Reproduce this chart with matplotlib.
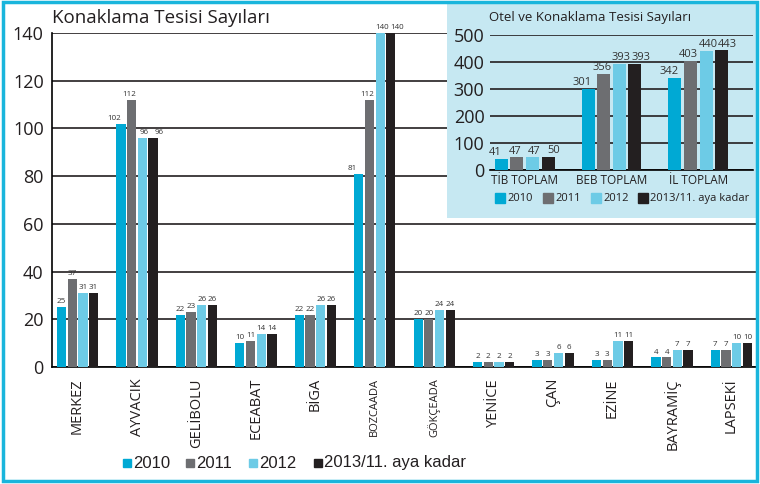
import numpy as np
import matplotlib
matplotlib.use("Agg")
import matplotlib.pyplot as plt
from matplotlib.patches import Rectangle

plt.rcParams['font.family'] = ['Open Sans', 'DejaVu Sans']

# main chart data
districts = ['MERKEZ', 'AYVACIK', 'GELİBOLU', 'ECEABAT', 'BİGA', 'BOZCAADA',
             'GÖKÇEADA', 'YENİCE', 'ÇAN', 'EZİNE', 'BAYRAMİÇ', 'LAPSEKİ']
v2010 = [25, 102, 22, 10, 22, 81, 20, 2, 3, 3, 4, 7]
v2011 = [37, 112, 23, 11, 22, 112, 20, 2, 3, 3, 4, 7]
v2012 = [31, 96, 26, 14, 26, 140, 24, 2, 6, 11, 7, 10]
v2013 = [31, 96, 26, 14, 26, 140, 24, 2, 6, 11, 7, 10]
years = ['2010', '2011', '2012', '2013/11. aya kadar']

# inset data
groups = ['TİB TOPLAM', 'BEB TOPLAM', 'İL TOPLAM']
t2010 = [41, 301, 342]
t2011 = [47, 356, 403]
t2012 = [47, 393, 440]
t2013 = [50, 393, 443]

colors = ['#00a9d4', '#6d6e71', '#6dcbe6', '#231f20']
txt = '#231f20'
W, H = 760, 484

fig = plt.figure(figsize=(7.6, 4.84), dpi=100)

# main axes
ax = fig.add_axes([52/W, 1-367/H, 705/W, 334/H])
x = np.arange(len(districts))
step, w = 0.18, 0.155
series = [v2010, v2011, v2012, v2013]
for k, vals in enumerate(series):
    pos = x + (k - 1.5) * step
    ax.bar(pos, vals, w, color=colors[k], zorder=3)
for i in x:
    big = any(s[i] >= 100 for s in series)
    spread = 1.4 if big else 1.0
    for k, s in enumerate(series):
        lx = i + (k - 1.5) * step * spread
        ax.text(lx, s[i] + 0.8, str(s[i]), ha='center', va='bottom', fontsize=5.8,
                color='#333333', clip_on=False, zorder=4)
ax.set_xlim(-0.43, 11.43)
ax.set_ylim(0, 140)
ax.set_yticks(range(0, 141, 20))
ax.tick_params(axis='y', labelsize=13, length=0, pad=6, colors=txt)
ax.set_xticks(x)
ax.set_xticklabels(districts, rotation=90, fontsize=10.5, color=txt)
for lab in ax.get_xticklabels():
    if lab.get_text() in ('BOZCAADA', 'GÖKÇEADA'):
        lab.set_fontsize(8)
ax.tick_params(axis='x', length=0, pad=8)
ax.grid(axis='y', color='#231f20', lw=1.2, zorder=0)
for s in ['top', 'right']:
    ax.spines[s].set_visible(False)
ax.spines['left'].set_linewidth(1.2)
ax.spines['bottom'].set_linewidth(1.2)
fig.text(52/W, 1-18/H, 'Konaklama Tesisi Sayıları', fontsize=13.5,
         color=txt, va='center', ha='left')

# bottom legend, placed item by item
mk_x = [127, 190, 253, 318]
for xx, lab, c in zip(mk_x, years, colors):
    fig.patches.append(Rectangle(((xx-4)/W, 1-(463+4)/H), 8/W, 8/H,
                                 transform=fig.transFigure, color=c))
    fig.text((xx+6)/W, 1-463/H, lab, fontsize=12, color=txt, va='center', ha='left',
             family=['Liberation Sans', 'DejaVu Sans'])

# inset background
bg = fig.add_axes([447/W, 1-218/H, 310/W, 215/H])
bg.set_facecolor('#c6e8f2')
bg.set_xticks([])
bg.set_yticks([])
for s in bg.spines.values():
    s.set_visible(False)

ins = fig.add_axes([490/W, 1-170/H, 263/W, 135/H])
ins.patch.set_alpha(0)
gx = np.arange(len(groups))
istep, iw = 0.18, 0.15
tseries = [t2010, t2011, t2012, t2013]
for k, vals in enumerate(tseries):
    pos = gx + (k - 1.5) * istep
    ins.bar(pos, vals, iw, color=colors[k], zorder=3)
    for g, v in zip(gx, vals):
        lx = g + (k - 1.5) * istep * 1.25
        ins.text(lx, v + 3, str(v), ha='center', va='bottom', fontsize=8,
                 color='#333333', zorder=4)
ins.set_xlim(-0.4, 2.63)
ins.set_ylim(0, 500)
ins.set_yticks(range(0, 501, 100))
ins.tick_params(axis='y', labelsize=13, length=0, pad=4, colors=txt)
ins.set_xticks(gx)
ins.set_xticklabels(groups, fontsize=8.5, color=txt)
ins.tick_params(axis='x', length=0, pad=3)
ins.grid(axis='y', color='#231f20', lw=1.2, zorder=0)
for s in ['top', 'right', 'left']:
    ins.spines[s].set_visible(False)
ins.spines['bottom'].set_linewidth(1.2)
fig.text(489/W, 1-18/H, 'Otel ve Konaklama Tesisi Sayıları', fontsize=9.5,
         color=txt, va='center', ha='left')

imk_x = [500, 548, 596, 643]
for xx, lab, c in zip(imk_x, years, colors):
    fig.patches.append(Rectangle(((xx-5)/W, 1-(198+5)/H), 10/W, 10/H,
                                 transform=fig.transFigure, color=c))
    fig.text((xx+7)/W, 1-198/H, lab, fontsize=8, color=txt, va='center', ha='left')

# outer border
fig.patches.append(Rectangle((0.004, 0.006), 0.992, 0.99, transform=fig.transFigure,
                             fill=False, edgecolor='#19b5dc', lw=2.5))

fig.savefig('out.png', dpi=100)
